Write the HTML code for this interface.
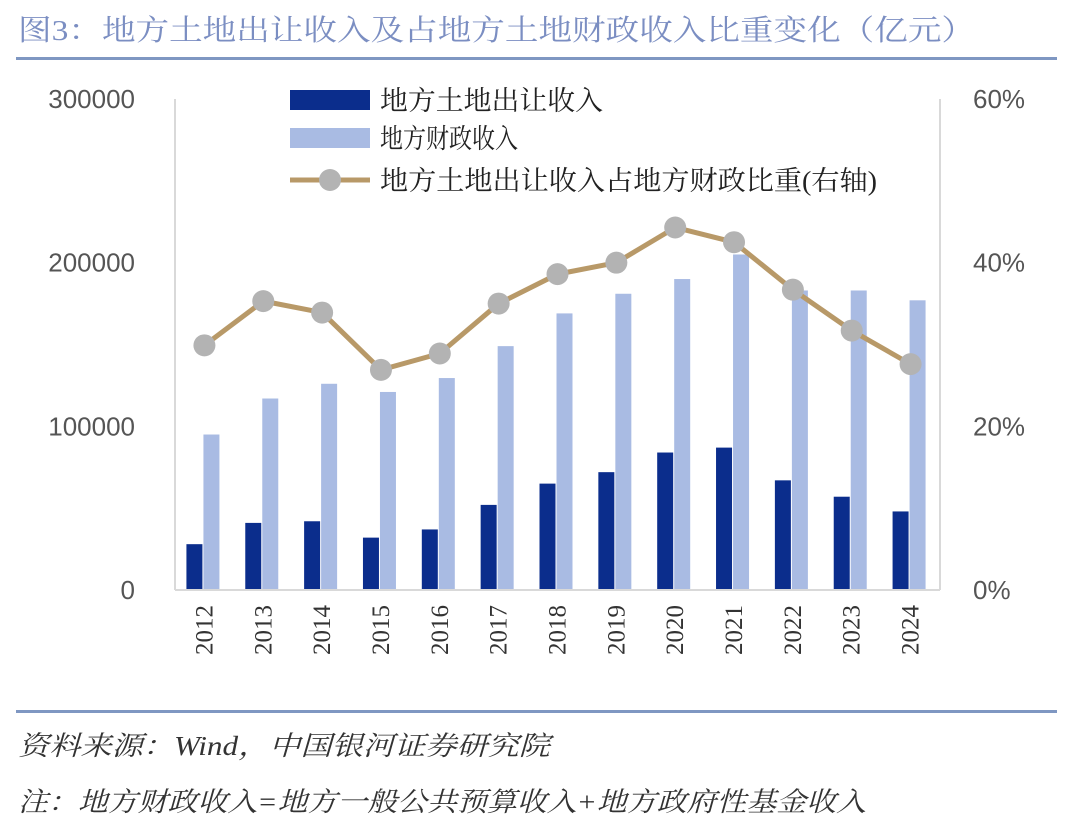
<!DOCTYPE html>
<html><head><meta charset="utf-8"><style>
body{margin:0;background:#fff;width:1080px;height:835px;overflow:hidden;font-family:"Liberation Serif","Noto Serif CJK SC",serif}
</style></head><body>
<svg width="1080" height="835" xmlns="http://www.w3.org/2000/svg">
<text x="18" y="40" font-size="29" fill="#7b8ec2" textLength="957" lengthAdjust="spacingAndGlyphs" font-family="Liberation Serif, Noto Serif CJK SC, serif">图3：地方土地出让收入及占地方土地财政收入比重变化（亿元）</text>
<rect x="16" y="57" width="1041" height="3" fill="#7f97c2"/>
<g id="plot"></g>
<rect x="16" y="710" width="1041" height="3" fill="#7f97c2"/>
<text x="18" y="755" font-size="27" font-style="italic" fill="#333" textLength="532" lengthAdjust="spacingAndGlyphs" font-family="Liberation Serif, Noto Serif CJK SC, serif">资料来源：Wind，中国银河证券研究院</text>
<text x="18" y="811" font-size="27" font-style="italic" fill="#333" textLength="848" lengthAdjust="spacingAndGlyphs" font-family="Liberation Serif, Noto Serif CJK SC, serif">注：地方财政收入=地方一般公共预算收入+地方政府性基金收入</text>
</svg>
<script>
const years=["2012","2013","2014","2015","2016","2017","2018","2019","2020","2021","2022","2023","2024"];
const landSales=[28000,41000,42000,32000,37000,52000,65000,72000,84000,87000,67000,57000,48000];
const fiscalRev=[95000,117000,126000,121000,129500,149000,169000,181000,190000,205000,183000,183000,177000];
const sharePct=[29.9,35.3,33.9,26.9,28.9,35.0,38.6,40.0,44.3,42.5,36.7,31.7,27.6];
const leftTicks=[0,100000,200000,300000];
const rightTicks=[0,20,40,60];
const NS="http://www.w3.org/2000/svg";
const g=document.getElementById('plot');
const X0=175,X1=940,Y0=590,Y1=99;
const step=(X1-X0)/years.length;
const cx=i=>X0+step*(i+0.5);
const yL=v=>Y0-(v/300000)*(Y0-Y1);
const yR=v=>Y0-(v/60)*(Y0-Y1);
function mk(t,a){const e=document.createElementNS(NS,t);for(const k in a)e.setAttribute(k,a[k]);g.appendChild(e);return e;}
let e;
e=mk('line',{x1:X0,y1:Y1,x2:X0,y2:Y0,stroke:'#d9d9d9','stroke-width':2});


e=mk('line',{x1:X1,y1:Y1,x2:X1,y2:Y0,stroke:'#d9d9d9','stroke-width':2});


leftTicks.forEach(v=>{
 e=mk('text',{x:135,y:yL(v)+9,'font-size':26,fill:'#555','text-anchor':'end','font-family':'Liberation Sans, sans-serif'});
 e.textContent=v;
 
 
});
rightTicks.forEach(v=>{
 e=mk('text',{x:973,y:yR(v)+9,'font-size':26,fill:'#555','font-family':'Liberation Sans, sans-serif'});
 e.textContent=v+'%';
 
 
});
years.forEach((y,i)=>{
 const c=cx(i);
 e=mk('rect',{x:c-18,y:yL(landSales[i]),width:16,height:Y0-yL(landSales[i]),fill:'#0b2d8c'});
 
 
 e=mk('rect',{x:c-1,y:yL(fiscalRev[i]),width:16,height:Y0-yL(fiscalRev[i]),fill:'#a9bbe3'});
 
 
 e=mk('text',{x:0,y:0,'font-size':25,fill:'#333','text-anchor':'end','font-family':'Liberation Serif, serif',transform:`translate(${c+8},${605}) rotate(-90)`});
 e.textContent=y;
 
 
});
e=mk('line',{x1:X0,y1:Y0,x2:X1,y2:Y0,stroke:'#d9d9d9','stroke-width':2});


e=mk('polyline',{points:sharePct.map((v,i)=>cx(i)+','+yR(v)).join(' '),fill:'none',stroke:'#b89968','stroke-width':5,'stroke-linejoin':'round'});


sharePct.forEach((v,i)=>{
 e=mk('circle',{cx:cx(i),cy:yR(v),r:11,fill:'#b3b3b3'});
 
 
});
e=mk('rect',{x:290,y:90,width:80,height:20,fill:'#0b2d8c'});


e=mk('rect',{x:290,y:128,width:80,height:20,fill:'#a9bbe3'});


e=mk('line',{x1:290,y1:180,x2:370,y2:180,stroke:'#b89968','stroke-width':5});


e=mk('circle',{cx:330,cy:180,r:11,fill:'#b3b3b3'});


[["地方土地出让收入",110,223],["地方财政收入",148,138],["地方土地出让收入占地方财政比重(右轴)",190,497]].forEach((t,k)=>{
 e=mk('text',{x:380,y:t[1],'font-size':27,fill:'#222',textLength:t[2],lengthAdjust:'spacingAndGlyphs','font-family':'Liberation Serif, Noto Serif CJK SC, serif'});
 e.textContent=t[0];
 
 
});
</script>
</body></html>
